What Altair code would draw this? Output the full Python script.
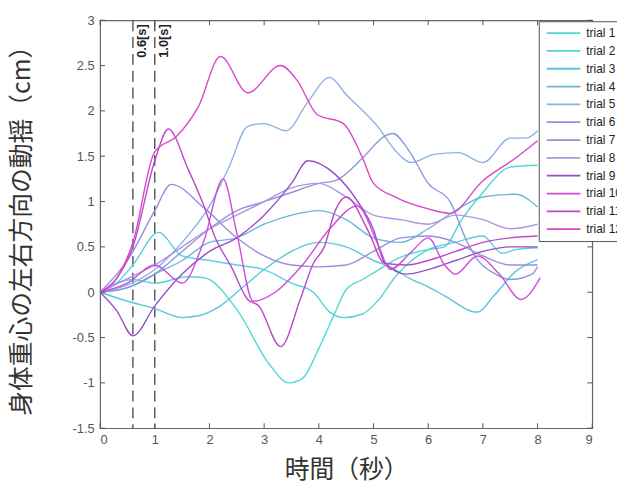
import altair as alt
import pandas as pd

trial_names = [f"trial {i}" for i in range(1, 13)]
trial_colors = ["#4fd8d8", "#55d2dc", "#5cc6dc", "#6ab6dc", "#8fb0e6", "#8f96dc",
                "#9b8fdc", "#ae96e0", "#9a4fc8", "#d04cd8", "#b84ac8", "#d848c8"]

t1 = [0, 0.3, 0.6, 1.0, 1.6, 1.9, 2.5, 3.1, 3.45, 3.7, 4.0, 4.3, 4.5, 4.8, 5.1, 5.4, 5.7, 6.0, 6.3, 6.6, 7.0, 7.5, 8.0]
v1 = [0, 0.1, 0.14, 0.1, 0.17, 0.16, -0.19, -0.8, -1.0, -0.95, -0.62, -0.22, 0.03, 0.14, 0.25, 0.36, 0.43, 0.47, 0.5, 0.79, 1.1, 1.38, 1.4]
t2 = [0, 0.3, 0.6, 1.07, 1.5, 2.0, 2.5, 3.0, 3.5, 3.9, 4.2, 4.45, 4.8, 5.1, 5.4, 6.0, 6.5, 7.0, 7.35, 7.6, 8.0]
v2 = [0, 0.1, 0.3, 0.66, 0.4, 0.35, 0.3, 0.25, 0.1, 0.0, -0.22, -0.28, -0.24, -0.08, 0.17, 0.47, 0.55, 0.62, 0.43, 0.47, 0.49]
t3 = [0, 0.5, 1.0, 1.5, 1.8, 2.2, 2.6, 3.0, 3.5, 4.0, 4.5, 5.0, 5.3, 5.7, 6.0, 6.3, 6.9, 7.2, 7.6, 8.0]
v3 = [0, -0.1, -0.18, -0.28, -0.26, -0.15, 0.05, 0.25, 0.45, 0.55, 0.5, 0.35, 0.28, 0.14, 0.06, -0.04, -0.22, -0.04, 0.23, 0.36]
t4 = [0, 0.5, 1.0, 1.5, 2.0, 2.5, 3.0, 3.5, 4.0, 4.5, 5.0, 5.5, 6.0, 6.5, 7.0, 7.6, 8.0]
v4 = [0, 0.05, 0.2, 0.35, 0.55, 0.6, 0.75, 0.85, 0.9, 0.8, 0.6, 0.55, 0.7, 0.9, 1.05, 1.08, 0.94]
t5 = [0, 0.5, 1.0, 1.5, 2.0, 2.35, 2.7, 3.0, 3.4, 3.8, 4.2, 4.5, 5.1, 5.4, 5.7, 6.1, 6.55, 7.0, 7.5, 7.8, 8.0]
v5 = [0, 0.08, 0.25, 0.55, 0.95, 1.37, 1.83, 1.86, 1.78, 2.1, 2.37, 2.18, 1.81, 1.56, 1.43, 1.52, 1.54, 1.43, 1.7, 1.7, 1.78]
t6 = [0, 0.5, 1.0, 1.5, 2.0, 2.5, 3.0, 3.5, 4.0, 4.3, 4.8, 5.2, 5.35, 5.65, 6.0, 6.4, 6.7, 6.9, 7.2, 7.5, 7.9, 8.0]
v6 = [0, 0.05, 0.2, 0.45, 0.7, 0.9, 1.0, 1.1, 1.2, 1.23, 1.48, 1.72, 1.75, 1.56, 1.2, 1.0, 0.57, 0.36, 0.21, 0.14, 0.2, 0.28]
t7 = [0, 0.5, 1.0, 1.3, 1.9, 2.5, 3.0, 3.5, 4.0, 4.5, 5.0, 5.5, 6.0, 6.5, 7.0, 7.5, 8.0]
v7 = [0, 0.35, 0.9, 1.19, 0.93, 0.6, 0.4, 0.3, 0.28, 0.3, 0.45, 0.6, 0.62, 0.55, 0.4, 0.3, 0.3]
t8 = [0, 0.5, 1.0, 1.5, 2.0, 2.5, 3.0, 3.5, 4.0, 4.5, 5.0, 5.5, 6.0, 6.5, 7.0, 7.5, 8.0]
v8 = [0, 0.15, 0.3, 0.5, 0.7, 0.85, 1.0, 1.15, 1.2, 1.05, 0.85, 0.8, 0.75, 0.85, 0.8, 0.7, 0.75]
t9 = [0, 0.3, 0.6, 1.0, 1.5, 2.0, 2.5, 3.0, 3.5, 3.8, 4.3, 4.7, 5.0, 5.2, 5.6, 6.0, 6.5, 7.0, 7.5, 8.0]
v9 = [0, -0.2, -0.48, -0.15, 0.2, 0.45, 0.6, 0.85, 1.2, 1.45, 1.3, 1.01, 0.69, 0.33, 0.2, 0.25, 0.35, 0.45, 0.5, 0.5]
t10 = [0, 0.5, 1.0, 1.5, 1.9, 2.25, 2.5, 2.8, 3.2, 3.7, 4.2, 4.7, 5.1, 5.3, 5.7, 6.0, 6.3, 6.5, 6.9, 7.3, 7.7, 8.05]
v10 = [0, 0.1, 0.3, 0.1, 0.57, 1.25, 0.65, -0.1, 0.0, 0.3, 0.7, 0.95, 0.5, 0.25, 0.45, 0.6, 0.3, 0.2, 0.4, 0.2, -0.08, 0.16]
t11 = [0, 0.3, 0.6, 1.0, 1.25, 1.6, 1.9, 2.1, 2.4, 2.7, 2.9, 3.3, 3.66, 3.9, 4.1, 4.3, 4.5, 4.9, 5.2, 5.6, 6.0, 6.5, 7.0, 7.5, 8.0]
v11 = [0, 0.15, 0.5, 1.45, 1.8, 1.37, 0.95, 0.61, 0.28, -0.08, -0.15, -0.6, -0.08, 0.32, 0.5, 0.9, 1.05, 0.68, 0.32, 0.3, 0.35, 0.45, 0.55, 0.6, 0.62]
t12 = [0, 0.3, 0.6, 1.0, 1.4, 1.8, 2.2, 2.7, 3.3, 3.6, 3.97, 4.45, 4.8, 5.0, 5.4, 6.0, 6.4, 7.0, 7.6, 8.0]
v12 = [0, 0.15, 0.55, 1.55, 1.72, 2.05, 2.6, 2.2, 2.5, 2.34, 1.96, 1.86, 1.48, 1.2, 1.05, 0.92, 0.87, 1.23, 1.48, 1.67]

x_ticks = [0, 1, 2, 3, 4, 5, 6, 7, 8, 9]
y_ticks = [-1.5, -1, -0.5, 0, 0.5, 1, 1.5, 2, 2.5, 3]
marker_t = [0.6, 1.0]
marker_labels = ["0.6[s]", "1.0[s]"]

times = [t1, t2, t3, t4, t5, t6, t7, t8, t9, t10, t11, t12]
values = [v1, v2, v3, v4, v5, v6, v7, v8, v9, v10, v11, v12]
rows = []
for name, ts, vs in zip(trial_names, times, values):
    for t, v in zip(ts, vs):
        rows.append({"trial": name, "t": t, "v": v})
df = pd.DataFrame(rows)
df_xt = pd.DataFrame({"t": x_ticks})
df_yt = pd.DataFrame({"v": y_ticks})
df_mk = pd.DataFrame({"t": marker_t, "label": marker_labels})

W, H = 497, 412
JP = "Noto Sans CJK JP"
LAT = "Liberation Sans"

x_axis = alt.Axis(values=x_ticks, ticks=False, domain=False, grid=False, labelPadding=5,
                  labelFontSize=13, labelFont=LAT, labelColor="#555",
                  title="時間（秒）", titleFont=JP, titleFontSize=25, titleFontWeight="normal",
                  titleColor="#333", titleX=W / 2, titleY=42, titleBaseline="middle")
y_axis = alt.Axis(values=y_ticks, ticks=False, domain=False, grid=False, labelPadding=6,
                  labelFontSize=13, labelFont=LAT, labelColor="#555",
                  labelExpr="toString(datum.value)",
                  title="身体重心の左右方向の動揺（cm）", titleFont=JP, titleFontSize=25,
                  titleFontWeight="normal", titleColor="#333", titleX=-79, titleY=H / 2,
                  titleBaseline="middle", titleAngle=270)
x_scale = alt.Scale(domain=[0, 9], nice=False, zero=False)
y_scale = alt.Scale(domain=[-1.5, 3], nice=False, zero=False)

def X():
    return alt.X("t:Q", scale=x_scale, axis=x_axis)

def Y():
    return alt.Y("v:Q", scale=y_scale, axis=y_axis)

lines = alt.Chart(df).mark_line(strokeWidth=1.4, interpolate="monotone").encode(
    x=X(), y=Y(),
    color=alt.Color("trial:N", sort=trial_names,
                    scale=alt.Scale(domain=trial_names, range=trial_colors),
                    legend=alt.Legend(title=None, orient="none", legendX=443, legendY=1,
                                      symbolType="M-4.25,0H4.25", symbolSize=64,
                                      symbolStrokeWidth=1.8, symbolOffset=13, labelOffset=17,
                                      labelFontSize=12, labelFont=LAT, labelColor="#222",
                                      padding=6, rowPadding=6, strokeColor="#555",
                                      fillColor="white", cornerRadius=0)),
)

markers = alt.Chart(df_mk).mark_rule(color="#444", strokeWidth=1.3, strokeDash=[11, 6]).encode(
    x=X(), y=alt.value(0), y2=alt.value(H))
marker_text = alt.Chart(df_mk).mark_text(angle=270, align="right", baseline="top", dy=3,
                                         fontSize=13, fontWeight="bold", font=LAT,
                                         color="#222").encode(
    x=X(), y=alt.value(4), text="label:N")

tick_style = dict(color="#555", strokeWidth=1)
bottom_ticks = alt.Chart(df_xt).mark_rule(**tick_style).encode(x=X(), y=alt.value(H), y2=alt.value(H - 5))
top_ticks = alt.Chart(df_xt).mark_rule(**tick_style).encode(x=X(), y=alt.value(0), y2=alt.value(5))
left_ticks = alt.Chart(df_yt).mark_rule(**tick_style).encode(y=Y(), x=alt.value(0), x2=alt.value(5))
right_ticks = alt.Chart(df_yt).mark_rule(**tick_style).encode(y=Y(), x=alt.value(W), x2=alt.value(W - 5))

chart = alt.layer(markers, lines, marker_text, bottom_ticks, top_ticks, left_ticks, right_ticks).properties(
    width=W, height=H,
    padding={"left": 93, "top": 10, "right": 25, "bottom": 56},
    autosize=alt.AutoSizeParams(type="none"),
).configure_view(stroke="#666", strokeWidth=1.2)

chart.save("out.html", embed_options={"renderer": "svg", "actions": False})
